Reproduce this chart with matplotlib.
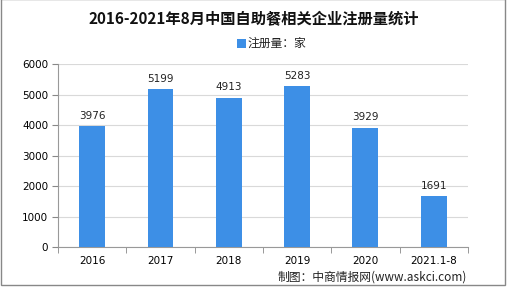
import matplotlib.pyplot as plt
from matplotlib.patches import Rectangle

plt.rcParams['font.family'] = ['Noto Sans CJK SC', 'DejaVu Sans']

years = ['2016', '2017', '2018', '2019', '2020', '2021.1-8']
counts = [3976, 5199, 4913, 5283, 3929, 1691]
yticks = [0, 1000, 2000, 3000, 4000, 5000, 6000]

fig = plt.figure(figsize=(5.07, 2.90), dpi=100)
ax = fig.add_axes([0.1144, 0.1466, 0.8086, 0.631])

x = range(len(years))
ax.bar(x, counts, width=0.38, color='#3d8fe6', zorder=3)
for i, v in enumerate(counts):
    ax.text(i, v + 170, str(v), ha='center', va='bottom', fontsize=7.5,
            family='DejaVu Sans', color='#222222')

ax.set_xlim(-0.5, len(years) - 0.5)
ax.set_ylim(0, 6000)
ax.set_yticks(yticks)
ax.set_yticklabels([str(t) for t in yticks], fontsize=7.5, family='DejaVu Sans')
ax.set_xticks(list(x))
ax.set_xticklabels(years, fontsize=7.5, family='DejaVu Sans')
ax.set_xticks([i - 0.5 for i in range(len(years) + 1)], minor=True)
ax.tick_params(axis='x', which='major', length=0, pad=6)
ax.tick_params(axis='x', which='minor', length=4, color='#888888')
ax.tick_params(axis='y', length=4, color='#888888', pad=3)
ax.grid(axis='y', color='#d9d9d9', linewidth=0.8, zorder=0)
for s in ['top', 'right']:
    ax.spines[s].set_visible(False)
for s in ['left', 'bottom']:
    ax.spines[s].set_color('#999999')

fig.text(0.5, 0.935, '2016-2021年8月中国自助餐相关企业注册量统计', ha='center', va='center',
         fontsize=11, fontweight='bold', color='#111111')
fig.patches.append(Rectangle((0.4665, 0.835), 0.018, 0.032, transform=fig.transFigure,
                             facecolor='#3d8fe6', edgecolor='none'))
fig.text(0.488, 0.85, '注册量：家', ha='left', va='center', fontsize=8.5, color='#222222')
fig.text(0.921, 0.045, '制图：中商情报网(www.askci.com)', ha='right', va='center',
         fontsize=8.5, color='#222222')

fig.patches.append(Rectangle((0.002, 0.017), 0.995, 0.985, transform=fig.transFigure,
                             facecolor='none', edgecolor='#888888', linewidth=1))

fig.savefig('out.png', dpi=100)
